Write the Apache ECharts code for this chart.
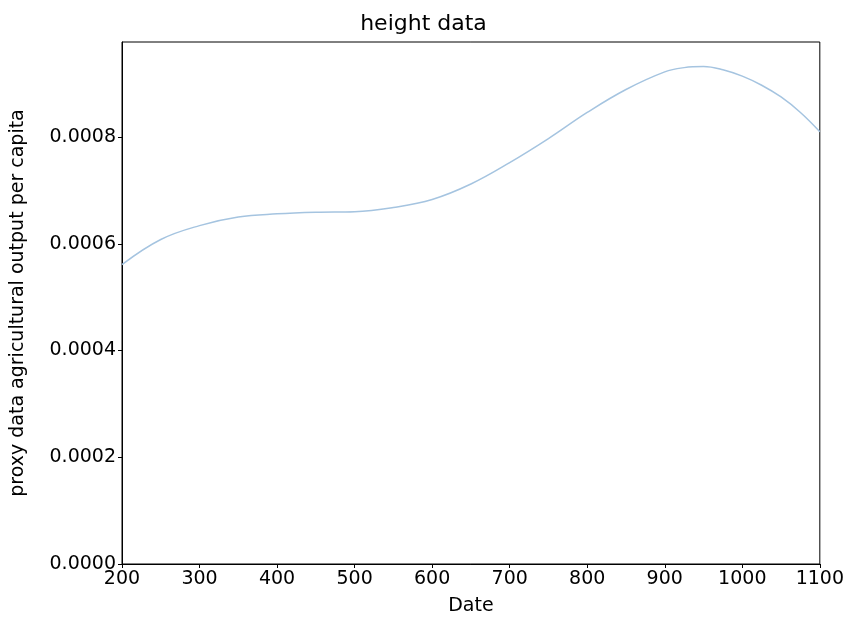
<!DOCTYPE html>
<html><head><meta charset="utf-8">
<script src="https://cdn.jsdelivr.net/npm/echarts@6/dist/echarts.min.js"></script>
<style>html,body{margin:0;padding:0;background:#fff}#c{width:847px;height:626px}</style>
</head><body><div id="c"></div>
<script>
const dates = [200,250,300,350,400,450,500,550,600,650,700,750,800,850,900,925,950,975,1000,1025,1050,1075,1100];
const values = [0.000561,0.000608,0.000634,0.000650,0.000656,0.000659,0.000660,0.000668,0.000683,0.000712,0.000752,0.000797,0.000846,0.000889,0.000922,0.000930,0.000932,0.000926,0.000914,0.000897,0.000875,0.000846,0.000810];
const titleText = 'height data';
const xName = 'Date';
const yName = 'proxy data agricultural output per capita';

const font = 'DejaVu Sans';
const chart = echarts.init(document.getElementById('c'), null, {renderer:'canvas'});
chart.setOption({
  animation: false,
  backgroundColor: '#fff',
  title: {text: titleText, left: 'center', top: 8, textStyle: {fontFamily: font, fontSize: 22, fontWeight: 'normal', color: '#000'}},
  grid: {left: 122, right: 24, top: 42, bottom: 62, show: true, borderColor: '#000', borderWidth: 1, backgroundColor: 'transparent'},
  xAxis: {
    type: 'value', min: 200, max: 1100, interval: 100,
    name: xName, nameLocation: 'middle', nameGap: 33,
    nameTextStyle: {fontFamily: font, fontSize: 19, color: '#000'},
    axisLine: {show: true, onZero: false, lineStyle: {color: '#000', width: 1}},
    axisTick: {show: true, length: 4, lineStyle: {color: '#000'}},
    axisLabel: {fontFamily: font, fontSize: 19, color: '#000', margin: 6, formatter: v => String(v)},
    splitLine: {show: false}
  },
  yAxis: {
    type: 'value', min: 0, max: 0.000978, interval: 0.0002,
    name: yName, nameLocation: 'middle', nameGap: 94,
    nameTextStyle: {fontFamily: font, fontSize: 19, color: '#000'},
    axisLine: {show: true, lineStyle: {color: '#000', width: 1}},
    axisTick: {show: true, length: 4, lineStyle: {color: '#000'}},
    axisLabel: {fontFamily: font, fontSize: 19, color: '#000', margin: 6, showMaxLabel: false,
      formatter: v => v.toFixed(4)},
    splitLine: {show: false}
  },
  series: [{
    type: 'line', smooth: 0.4, showSymbol: false,
    data: dates.map((d, i) => [d, values[i]]),
    lineStyle: {color: '#a5c4e0', width: 1.5}
  }]
});
</script></body></html>
